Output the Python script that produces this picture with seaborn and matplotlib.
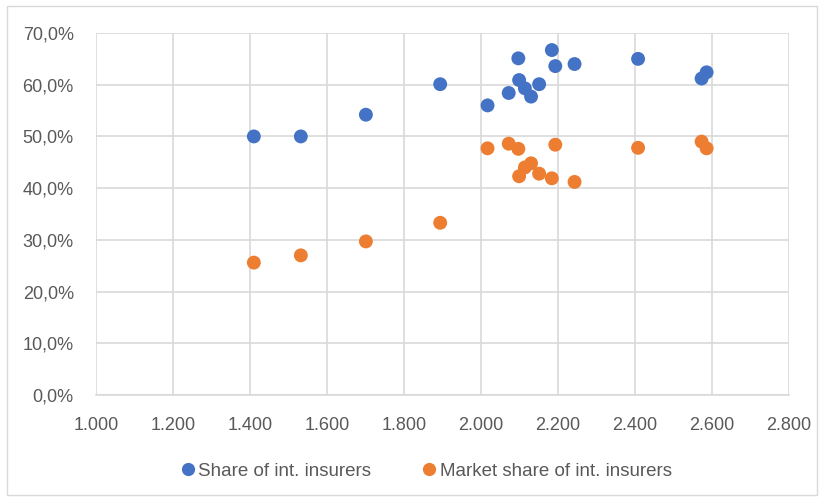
import matplotlib
matplotlib.use("Agg")
import matplotlib.pyplot as plt
import matplotlib.ticker as mticker
from matplotlib.patches import Rectangle
import pandas as pd
import seaborn as sns

# Values per observation (x in thousands-formatted units, shares in %)
x_values = [1410, 1532, 1701, 1894, 2017, 2072, 2097, 2099, 2114, 2130,
            2151, 2184, 2193, 2243, 2408, 2573, 2586]
share_int = [50.0, 50.0, 54.2, 60.1, 56.0, 58.4, 65.1, 60.9, 59.3, 57.7,
             60.1, 66.7, 63.6, 64.0, 65.0, 61.2, 62.4]
market_share_int = [25.6, 27.0, 29.7, 33.3, 47.7, 48.6, 47.6, 42.3, 44.0, 44.8,
                    42.8, 41.9, 48.4, 41.2, 47.8, 49.0, 47.7]
series_names = ["Share of int. insurers", "Market share of int. insurers"]
colors = ["#4472C4", "#ED7D31"]

df = pd.concat([
    pd.DataFrame({"x": x_values, "y": share_int, "series": series_names[0]}),
    pd.DataFrame({"x": x_values, "y": market_share_int, "series": series_names[1]}),
])

sns.set_theme(style="white")
plt.rcParams["font.family"] = ["Liberation Sans", "DejaVu Sans"]

fig = plt.figure(figsize=(8.24, 4.99), dpi=100)
ax = fig.add_axes([96 / 824, 1 - 395 / 499, (789 - 96) / 824, (395 - 33) / 499])

sns.scatterplot(data=df, x="x", y="y", hue="series", palette=colors,
                s=100, linewidth=0, ax=ax, legend=False, zorder=3)

ax.set_xlim(1000, 2800)
ax.set_ylim(0, 70)
ax.xaxis.set_major_locator(mticker.MultipleLocator(200))
ax.yaxis.set_major_locator(mticker.MultipleLocator(10))
ax.xaxis.set_major_formatter(mticker.FuncFormatter(lambda v, p: f"{v:,.0f}".replace(",", ".")))
ax.yaxis.set_major_formatter(mticker.FuncFormatter(lambda v, p: f"{v:.1f}%".replace(".", ",")))
ax.grid(True, color="#D9D9D9", linewidth=1.2, zorder=0)
ax.set_axisbelow(True)
for side, sp in ax.spines.items():
    sp.set_visible(side == "bottom")
ax.spines["bottom"].set_color("#D9D9D9")
ax.spines["bottom"].set_linewidth(1.2)
ax.tick_params(axis="both", length=0, labelsize=13, labelcolor="#595959")
ax.tick_params(axis="y", pad=16)
ax.tick_params(axis="x", pad=16)
ax.set_xlabel("")
ax.set_ylabel("")

handles = [plt.Line2D([], [], marker="o", linestyle="", markersize=9.5,
                      markerfacecolor=c, markeredgewidth=0) for c in colors]
fig.legend(handles, series_names, loc="center", bbox_to_anchor=(425 / 824, 1 - 471 / 499),
           ncol=2, frameon=False, fontsize=13.5, labelcolor="#595959",
           handletextpad=0.05, columnspacing=2.6, handlelength=1.0)

fig.patches.append(Rectangle((7 / 824, 4 / 499), 810 / 824, 489 / 499, transform=fig.transFigure,
                             fill=False, edgecolor="#D9D9D9", linewidth=1))

fig.savefig("out.png", dpi=100)
